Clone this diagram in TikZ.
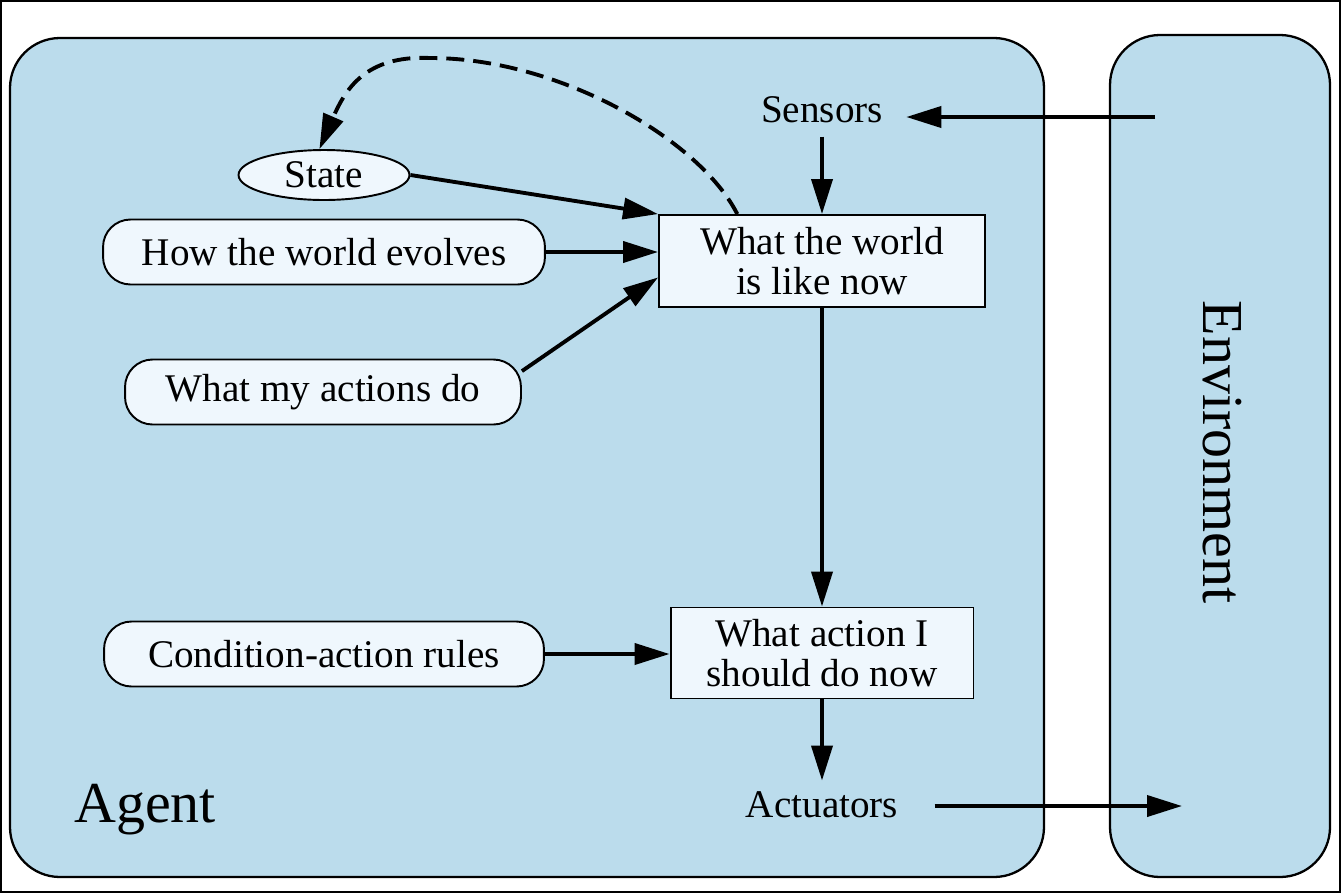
\documentclass[tikz,border=0pt]{standalone}
\usepackage{fontspec}
\setmainfont{Liberation Serif}
\usetikzlibrary{arrows.meta,shapes.geometric,calc}
\definecolor{agentblue}{HTML}{BBDCEC}
\definecolor{paleblue}{HTML}{EFF7FD}
\tikzset{myptr/.style={-{Triangle[length=0.7cm,width=0.42cm]},line width=2.2pt}}
\tikzset{mytext/.style={font=\fontsize{22.3}{22.5}\selectfont}}
\tikzset{mybig/.style={font=\fontsize{33}{33}\selectfont}}
\tikzset{mybox/.style={mytext,draw,line width=1.1pt,fill=paleblue,align=center,inner sep=0pt}}
\tikzset{mypill/.style={mybox,rounded corners=0.55cm,minimum height=1.3cm}}

\begin{document}
\begin{tikzpicture}[x=0.02cm,y=-0.02cm]

	  \useasboundingbox (0,0) rectangle (1341,893);
	  \draw [line width=1.1pt] (1,1) rectangle (1340,892);

	  % agent and environment
	  \draw [line width=1.3pt,fill=agentblue,rounded corners=1cm] (10,38) rectangle (1044,877);
	  \draw [line width=1.3pt,fill=agentblue,rounded corners=1cm] (1110,35) rectangle (1330,877);

	  \node [mybig] (agent) at (145,810) {Agent};
	  \node [mybig,rotate=-90] (env) at (1222,452) {Environment};

	  \node [mytext,inner xsep=0.46cm,inner ysep=0.26cm] (sensors) at (822,110) {Sensors};
	  \node [mytext,inner xsep=0.72cm,inner ysep=0.22cm] (actuators) at (822,805) {Actuators};
	  \coordinate (envin) at (1155,117);
	  \coordinate (envout) at (1182,806);

	  \node [mybox,minimum width=6.52cm,minimum height=1.84cm] (world) at (822,261) {What the world\\is like now};
	  \node [mybox,minimum width=6.06cm,minimum height=1.82cm] (action) at (822,653) {What action I\\should do now};

	  \node [mybox,ellipse,minimum width=3.42cm,minimum height=1.0cm] (state) at (324,175) {State};
	  \node [mypill,minimum width=8.84cm] (evolves) at (324,252) {How the world evolves};
	  \node [mypill,minimum width=7.92cm] (actions) at (323,392) {What my actions do};
	  \node [mypill,minimum width=8.8cm] (rules) at (324,654) {Condition-action rules};

	  % connectors
	  \draw [myptr] (envin) -- (envin -| sensors.east);
	  \draw [myptr] (sensors.south) -- (world.north);
	  \draw [myptr] (state.east) -- (world.north west);
	  \draw [myptr] (evolves.east) -- (evolves.east -| world.west);
	  \draw [myptr] (actions.6) -- ($(world.west)!0.35!(world.south west)$);
	  \draw [myptr] (world.south) -- (action.north);
	  \draw [myptr] (rules.east) -- (rules.east -| action.west);
	  \draw [myptr] (action.south) -- (actuators.north);
	  \draw [myptr] (actuators.east |- envout) -- (envout);

	  \draw [myptr,dash pattern=on 0.36cm off 0.18cm] (world.151) .. controls (700,140) and (560,58) .. (430,58)
	        .. controls (365,55) and (345,90) .. (state.100);

\end{tikzpicture}
\end{document}
